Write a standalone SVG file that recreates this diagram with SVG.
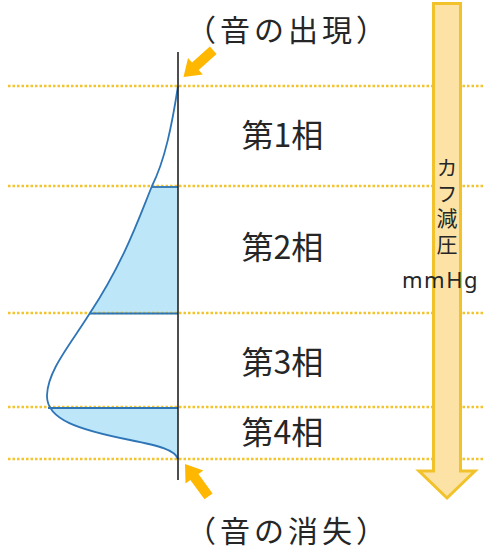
<svg xmlns="http://www.w3.org/2000/svg" width="483" height="550" viewBox="0 0 483 550">
<style>
.dot{stroke:#F2C42E;stroke-width:2.5;stroke-dasharray:2.5 2;fill:none}
.lbl{font-family:"Noto Sans CJK JP","Noto Sans",sans-serif;fill:#262626;text-anchor:middle}
.ph{font-size:32px}
.cap{font-size:30px;letter-spacing:4px}
.band{stroke:#2E75B6;stroke-width:1.8;fill:none}
.orange{fill:#FFB700}
</style>
<defs>
<path id="curve" d="M178,86 C172,125 165,160 152,186 C140,215 125,260 90,313 C70,345 48,370 47,395 C46,420 80,430 130,440 C160,446 175,450 178,459"/>
<clipPath id="bands">
<rect x="0" y="186" width="178" height="127"/>
<rect x="0" y="407" width="178" height="52"/>
</clipPath>
<polygon id="pt" points="0,0 -16,-11 -16,-5 -40,-5 -40,5 -16,5 -16,11"/>
</defs>
<g id="fill-bands" clip-path="url(#bands)">
<path d="M178,86 C172,125 165,160 152,186 C140,215 125,260 90,313 C70,345 48,370 47,395 C46,420 80,430 130,440 C160,446 175,450 178,459 Z" fill="#BDE6F8"/>
</g>
<g id="guides">
<line class="dot" x1="8" y1="86" x2="483" y2="86"/>
<line class="dot" x1="8" y1="186" x2="483" y2="186"/>
<line class="dot" x1="8" y1="313" x2="483" y2="313"/>
<line class="dot" x1="8" y1="407" x2="483" y2="407"/>
<line class="dot" x1="8" y1="459" x2="483" y2="459"/>
</g>
<g id="curve-lines">
<line class="band" x1="152" y1="187" x2="178" y2="187"/>
<line class="band" x1="90" y1="313.5" x2="178" y2="313.5"/>
<line class="band" x1="48" y1="408" x2="178" y2="408"/>
<use href="#curve" class="band"/>
</g>
<g id="axis">
<line x1="178" y1="52" x2="178" y2="480" stroke="#222" stroke-width="1.6"/>
</g>
<g id="cuff-arrow">
<polygon points="433.5,3.5 460.5,3.5 460.5,471 475,471 447,498 419,471 433.5,471" fill="#FCE3A5" stroke="#F2C22A" stroke-width="3" stroke-linejoin="miter"/>
<text x="447" y="157" writing-mode="vertical-rl" font-family="'Noto Sans CJK JP',sans-serif" font-size="21" fill="#262626" letter-spacing="4.5">カフ減圧</text>
<text x="402" y="288" font-family="'Noto Sans','DejaVu Sans',sans-serif" font-size="22" fill="#262626" letter-spacing="1.5">mmHg</text>
</g>
<g id="connectors">
<use href="#pt" class="orange" transform="translate(183.5,77) rotate(138)"/>
<use href="#pt" class="orange" transform="translate(185,464) rotate(234)"/>
</g>
<g id="labels">
<text class="lbl cap" x="288" y="41">（音の出現）</text>
<text class="lbl ph" x="282.5" y="147">第1相</text>
<text class="lbl ph" x="282.5" y="259">第2相</text>
<text class="lbl ph" x="282.5" y="374">第3相</text>
<text class="lbl ph" x="282.5" y="444">第4相</text>
<text class="lbl cap" x="288" y="542">（音の消失）</text>
</g>
</svg>
